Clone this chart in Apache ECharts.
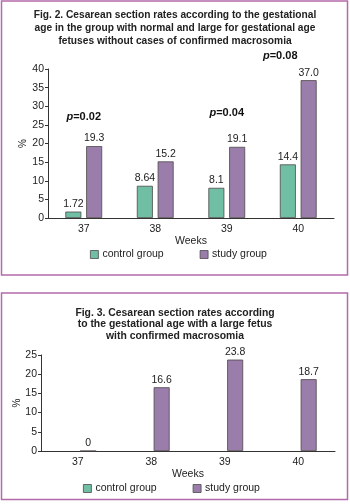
<!DOCTYPE html>
<html>
<head>
<meta charset="utf-8">
<script src="https://cdn.jsdelivr.net/npm/echarts@6/dist/echarts.min.js"></script>
<style>
html,body{margin:0;padding:0;background:#fff;}
#c{width:350px;height:504px;}
</style>
</head>
<body>
<div id="c"></div>
<script>
// ---- data ----
var categories = ['37', '38', '39', '40'];
var fig2Control = [1.72, 8.64, 8.1, 14.4];
var fig2ControlText = ['1.72', '8.64', '8.1', '14.4'];
var fig2Study = [19.3, 15.2, 19.1, 37.0];
var fig2StudyText = ['19.3', '15.2', '19.1', '37.0'];
var pTexts = ['0.02', '', '0.04', '0.08'];
var pHeights = [27.1, null, 28.2, 43.5];
var fig3Control = [null, null, null, null];
var fig3Study = [0, 16.6, 23.8, 18.7];
var fig3StudyText = ['0', '16.6', '23.8', '18.7'];
var fig2Ticks = [0, 40, 5];
var fig3Ticks = [0, 25, 5];
var seriesNames = ['control group', 'study group'];
var fig2Title = 'Fig. 2. Cesarean section rates according to the gestational\nage in the group with normal and large for gestational age\nfetuses without cases of confirmed macrosomia';
var fig3Title = 'Fig. 3. Cesarean section rates according\nto the gestational age with a large fetus\nwith confirmed macrosomia';

// ---- style ----
var FONT = 'Liberation Sans, Arial, sans-serif';
var TEAL = '#70bea3';
var PURPLE = '#9a7dab';
var EDGE = '#4d4a48';
var FRAME = '#b46aa9';
var TXT = '#222';

function yAxis(gi, ticks, gap) {
  return {
    gridIndex: gi, type: 'value', min: ticks[0], max: ticks[1], interval: ticks[2],
    name: '%', nameLocation: 'middle', nameGap: gap, nameRotate: 90, nameMoveOverlap: false,
    nameTextStyle: {fontFamily: FONT, fontSize: 10, color: TXT},
    axisLine: {show: true, lineStyle: {color: '#333', width: 1}},
    axisTick: {show: true, length: 3, lineStyle: {color: '#333'}},
    axisLabel: {fontFamily: FONT, fontSize: 10.5, color: TXT, margin: 4},
    splitLine: {show: false}
  };
}
function xAxis(gi, gap) {
  return {
    gridIndex: gi, type: 'category', data: categories,
    name: 'Weeks', nameLocation: 'middle', nameGap: gap,
    nameTextStyle: {fontFamily: FONT, fontSize: 10.5, color: TXT},
    axisLine: {show: true, lineStyle: {color: '#333', width: 1}},
    axisTick: {show: false},
    axisLabel: {fontFamily: FONT, fontSize: 10.5, color: TXT, margin: 6}
  };
}
function bar(name, gi, data, texts, color) {
  return {
    type: 'bar', name: name, xAxisIndex: gi, yAxisIndex: gi,
    data: data, barWidth: 16, barGap: '30%',
    itemStyle: {color: color, borderColor: EDGE, borderWidth: 0.8},
    label: {show: texts != null, position: 'top', distance: 2,
      fontFamily: FONT, fontSize: 10.5, color: TXT,
      formatter: function (p) { return texts ? texts[p.dataIndex] : ''; }}
  };
}
function legend(top, left) {
  return {
    data: seriesNames, top: top, left: left, icon: 'rect', padding: 0,
    itemWidth: 8, itemHeight: 8, itemGap: 36,
    textStyle: {fontFamily: FONT, fontSize: 10.5, color: TXT, padding: [0, 0, 0, -1]},
    itemStyle: {borderColor: EDGE, borderWidth: 0.8},
    selectedMode: false
  };
}

var chart = echarts.init(document.getElementById('c'), null, {renderer: 'canvas'});
chart.setOption({
  animation: false,
  backgroundColor: '#fff',
  title: [
    {text: fig2Title, left: 'center', top: 4,
      textStyle: {fontFamily: FONT, fontSize: 10.2, fontWeight: 'bold', color: TXT, lineHeight: 13}},
    {text: fig3Title, left: 'center', top: 302,
      textStyle: {fontFamily: FONT, fontSize: 10.4, fontWeight: 'bold', color: TXT, lineHeight: 11.5}}
  ],
  graphic: [
    {type: 'rect', shape: {x: 1.5, y: 1, width: 346, height: 274},
      style: {fill: 'none', stroke: FRAME, lineWidth: 1.5}, silent: true},
    {type: 'rect', shape: {x: 1.5, y: 293, width: 346, height: 206.5},
      style: {fill: 'none', stroke: FRAME, lineWidth: 1.5}, silent: true}
  ],
  grid: [
    {left: 48, right: 16, top: 69, height: 149, outerBoundsMode: 'none', containLabel: false},
    {left: 41, right: 15, top: 355, height: 96, outerBoundsMode: 'none', containLabel: false}
  ],
  xAxis: [xAxis(0, 16), xAxis(1, 17)],
  yAxis: [yAxis(0, fig2Ticks, 20), yAxis(1, fig3Ticks, 19)],
  legend: [legend(249, 90), legend(483, 83)],
  series: [
    bar(seriesNames[0], 0, fig2Control, fig2ControlText, TEAL),
    bar(seriesNames[1], 0, fig2Study, fig2StudyText, PURPLE),
    {
      type: 'scatter', name: 'p', xAxisIndex: 0, yAxisIndex: 0, clip: false,
      symbolSize: 1, itemStyle: {color: 'rgba(0,0,0,0)', opacity: 1}, silent: true,
      data: pHeights.map(function (v, i) {
        var item = {value: v};
        if (i === 3) item.label = {offset: [-18, 0]};
        return item;
      }),
      label: {show: true, position: 'inside', color: '#111', opacity: 1,
        formatter: function (p) { return pTexts[p.dataIndex] ? '{i|p}{b|=' + pTexts[p.dataIndex] + '}' : ''; },
        rich: {
          i: {fontFamily: FONT, fontSize: 11, fontWeight: 'bold', fontStyle: 'italic', color: '#111'},
          b: {fontFamily: FONT, fontSize: 11, fontWeight: 'bold', color: '#111'}
        }}
    },
    bar(seriesNames[0], 1, fig3Control, null, TEAL),
    bar(seriesNames[1], 1, fig3Study, fig3StudyText, PURPLE)
  ]
});
</script>
</body>
</html>
